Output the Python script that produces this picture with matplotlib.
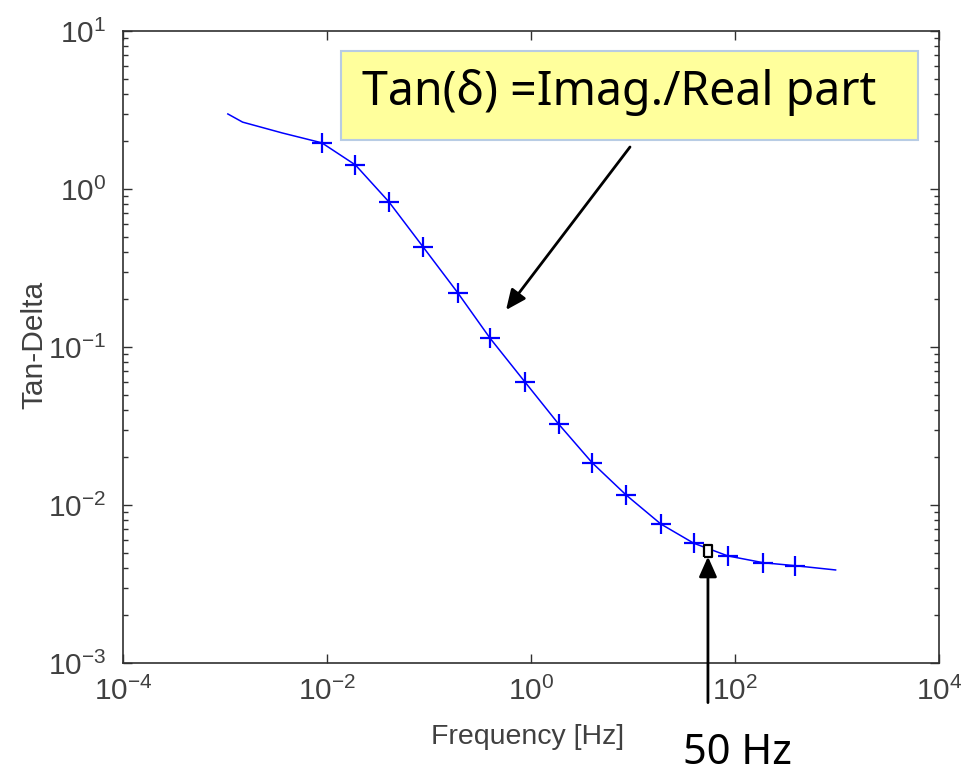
import numpy as np
import matplotlib
matplotlib.use("Agg")
import matplotlib.pyplot as plt
from matplotlib.patches import Rectangle
from matplotlib.ticker import FixedLocator, LogLocator, NullLocator, NullFormatter

plt.rcParams['font.family'] = ['Liberation Sans', 'DejaVu Sans']
plt.rcParams['mathtext.fontset'] = 'custom'
plt.rcParams['mathtext.rm'] = 'Liberation Sans'
plt.rcParams['mathtext.it'] = 'Liberation Sans:italic'
plt.rcParams['mathtext.bf'] = 'Liberation Sans:bold'

# --- data ---
# measured points (plus markers)
freq_meas = [0.00885, 0.0189, 0.0401, 0.0876, 0.190, 0.396, 0.865, 1.87,
             3.97, 8.55, 18.7, 39.3, 85.1, 190, 388]
tand_meas = [1.96, 1.42, 0.832, 0.428, 0.221, 0.1135, 0.0603, 0.0324,
             0.0185, 0.01156, 0.00758, 0.00573, 0.00476, 0.00431, 0.00413]

# continuous model curve
freq_curve = [0.00106, 0.00148, 0.00365] + freq_meas + [968]
tand_curve = [2.985, 2.65, 2.26] + tand_meas + [0.00388]

# 50 Hz operating point
f_50hz = 54.2
tand_50hz = 0.00514

x_ticks = [1e-4, 1e-2, 1e0, 1e2, 1e4]
x_ticklabels = [r'$10^{-4}$', r'$10^{-2}$', r'$10^{0}$', r'$10^{2}$', r'$10^{4}$']
y_ticks = [1e-3, 1e-2, 1e-1, 1e0, 1e1]
y_ticklabels = [r'$10^{-3}$', r'$10^{-2}$', r'$10^{-1}$', r'$10^{0}$', r'$10^{1}$']

W, H = 967, 777


def fx(px):
    return px / W


def fy(py):
    return 1 - py / H


fig = plt.figure(figsize=(W / 100, H / 100), dpi=100)
ax = fig.add_axes([fx(123.3), fy(663), fx(939) - fx(123.3), fy(31) - fy(663)])

ax.plot(freq_curve, tand_curve, color='#0000ff', lw=1.1)
ax.plot(freq_meas, tand_meas, ls='none', marker='+', ms=14, mew=1.6, color='#0000ff')
box_marker = [(-0.6, -1), (0.6, -1), (0.6, 1), (-0.6, 1), (-0.6, -1)]
ax.plot([f_50hz], [tand_50hz], ls='none', marker=box_marker, ms=9,
        mfc='white', mec='black', mew=1.6, zorder=5)

ax.set_xscale('log')
ax.set_yscale('log')
ax.set_xlim(1e-4, 1e4)
ax.set_ylim(1e-3, 1e1)

ax.xaxis.set_major_locator(FixedLocator(x_ticks))
ax.xaxis.set_minor_locator(NullLocator())
ax.set_xticklabels(x_ticklabels)
ax.yaxis.set_major_locator(FixedLocator(y_ticks))
ax.yaxis.set_minor_locator(LogLocator(base=10, subs=np.arange(2, 10), numticks=20))
ax.yaxis.set_minor_formatter(NullFormatter())
ax.set_yticklabels(y_ticklabels)

txt_col = '#404040'
ax.tick_params(which='both', direction='in', top=True, right=True,
               color='#303030', width=1.0)
ax.tick_params(which='major', length=6.5, labelsize=21.5, labelcolor=txt_col)
ax.tick_params(axis='x', which='major', pad=10)
ax.tick_params(axis='y', which='major', pad=12)
ax.tick_params(which='minor', length=3.5)
for sp in ax.spines.values():
    sp.set_color('#303030')
    sp.set_linewidth(1.2)

ax.set_xlabel('Frequency [Hz]', fontsize=20.5, color=txt_col)
ax.set_ylabel('Tan-Delta', fontsize=21.5, color=txt_col)
ax.xaxis.set_label_coords(0.5 + (527 - 531) / 815.7, -(724 - 663) / 632)
ax.yaxis.set_label_coords(-(123.3 - 48) / 815.7, 0.5 + (347 - 345) / 632)

# callout box
box = Rectangle((fx(341), fy(140)), fx(918) - fx(341), fy(51) - fy(140),
                transform=fig.transFigure, facecolor='#ffff9c',
                edgecolor='#b8cce4', lw=1.5, zorder=10)
fig.add_artist(box)
fig.text(fx(362), fy(93), 'Tan(δ) =Imag./Real part', fontsize=33.5,
         family=['Noto Sans', 'DejaVu Sans'], color='black',
         va='center', ha='left', zorder=11)

arrow_style = dict(arrowstyle='-|>,head_length=0.45,head_width=0.2',
                   mutation_scale=27, color='black', lw=2.0,
                   shrinkA=0, shrinkB=0)
ax.annotate('', xy=(0.567, 0.1714), xycoords='data',
            xytext=(630, H - 147), textcoords='figure pixels',
            arrowprops=arrow_style, annotation_clip=False)
ax.annotate('', xy=(f_50hz, tand_50hz), xycoords='data',
            xytext=(0, -109.4), textcoords='offset points',
            arrowprops=dict(arrow_style, shrinkB=4.3), annotation_clip=False)

fig.text(fx(683), fy(764), '50 Hz', fontsize=30,
         family=['Noto Sans', 'DejaVu Sans'], color='black',
         va='baseline', ha='left')

fig.savefig('out.png', dpi=100)
